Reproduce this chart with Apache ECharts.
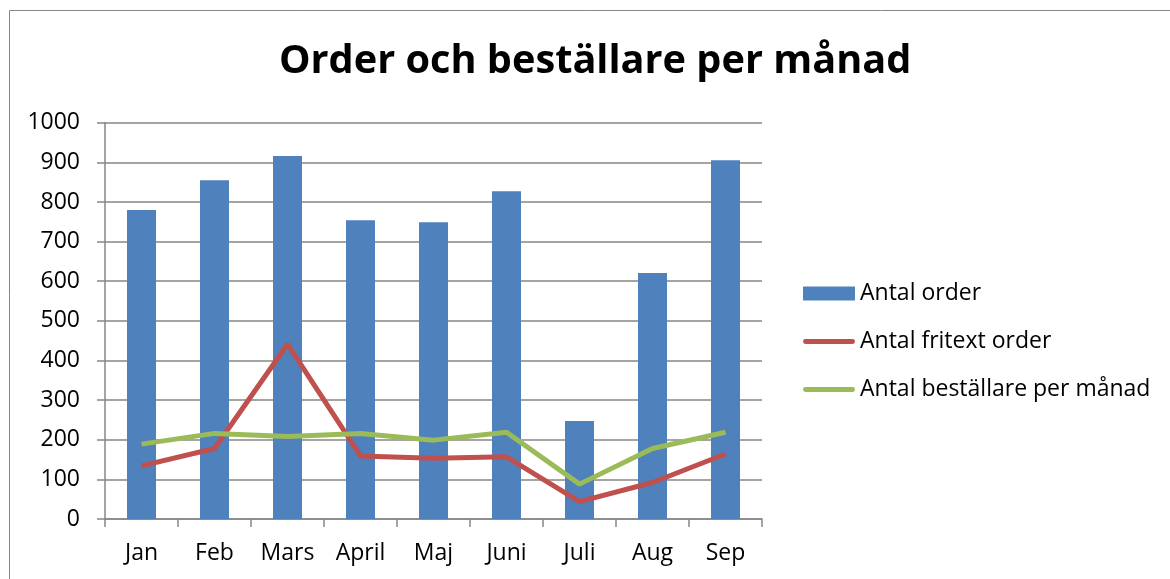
<!DOCTYPE html>
<html>
<head>
<meta charset="utf-8">
<script src="https://cdn.jsdelivr.net/npm/echarts@6/dist/echarts.min.js"></script>
<style>
  html, body { margin: 0; padding: 0; background: #fff; }
  #main { width: 1170px; height: 579px; }
</style>
</head>
<body>
<div id="main"></div>
<script>
const months = ['Jan', 'Feb', 'Mars', 'April', 'Maj', 'Juni', 'Juli', 'Aug', 'Sep'];
const antalOrder = [780, 855, 916, 754, 749, 827, 247, 621, 905];
const antalFritext = [134, 178, 441, 159, 153, 157, 44, 92, 164];
const antalBestallare = [189, 216, 208, 216, 199, 219, 88, 178, 219];

const chart = echarts.init(document.getElementById('main'));
const font = '"Open Sans", "Noto Sans", sans-serif';
const gridColor = '#868686';
// legend icon for the two lines: a flat bar, like the Excel legend
const lineIcon = 'path://M2,0 L50,0 A2.5,2.5 0 0 1 50,5 L2,5 A2.5,2.5 0 0 1 2,0 Z';

let option = {
  backgroundColor: '#fff',
  animation: false,
  textStyle: { fontFamily: font },
  title: {
    text: 'Order och beställare per månad',
    left: 274,
    top: 37,
    textStyle: { fontFamily: font, fontWeight: 'bold', fontSize: 39.7, color: '#000' },
  },
  graphic: [
    {
      type: 'rect',
      shape: { x: 9.5, y: 10.5, width: 1300, height: 700 },
      style: { fill: 'none', stroke: gridColor, lineWidth: 1 },
      silent: true,
    },
  ],
  legend: {
    orient: 'vertical',
    left: 798,
    top: 277,
    itemWidth: 52,
    itemHeight: 14,
    itemGap: 25,
    textStyle: { fontFamily: font, fontSize: 23, color: '#000' },
    data: [
      { name: 'Antal order', icon: 'rect' },
      { name: 'Antal fritext order', icon: lineIcon },
      { name: 'Antal beställare per månad', icon: lineIcon },
    ],
  },
  grid: { left: 105, right: 408, top: 122.7, bottom: 60 },
  xAxis: {
    type: 'category',
    data: months,
    boundaryGap: true,
    axisLine: { lineStyle: { color: gridColor, width: 1.5 } },
    axisTick: { show: true, length: 8, interval: 0, lineStyle: { color: gridColor, width: 1.5 } },
    axisLabel: { color: '#000', fontSize: 23, margin: 23, interval: 0 },
  },
  yAxis: {
    type: 'value',
    min: 0,
    max: 1000,
    interval: 100,
    axisLine: { show: true, lineStyle: { color: gridColor, width: 1.5 } },
    axisTick: { show: true, length: 8, lineStyle: { color: gridColor, width: 1.5 } },
    axisLabel: { color: '#000', fontSize: 23, margin: 25, formatter: (v) => String(v) },
    splitLine: { lineStyle: { color: gridColor, width: 1.5 } },
  },
  series: [
    {
      name: 'Antal order',
      type: 'bar',
      data: antalOrder,
      barWidth: 29,
      itemStyle: { color: '#4F81BD' },
    },
    {
      name: 'Antal fritext order',
      type: 'line',
      data: antalFritext,
      symbol: 'none',
      lineStyle: { color: '#C0504D', width: 5 },
      itemStyle: { color: '#C0504D' },
    },
    {
      name: 'Antal beställare per månad',
      type: 'line',
      data: antalBestallare,
      symbol: 'none',
      lineStyle: { color: '#9BBB59', width: 5 },
      itemStyle: { color: '#9BBB59' },
    },
  ],
};
chart.setOption(option);
window.onresize = () => {
  chart.resize();
};
</script>
</body>
</html>
